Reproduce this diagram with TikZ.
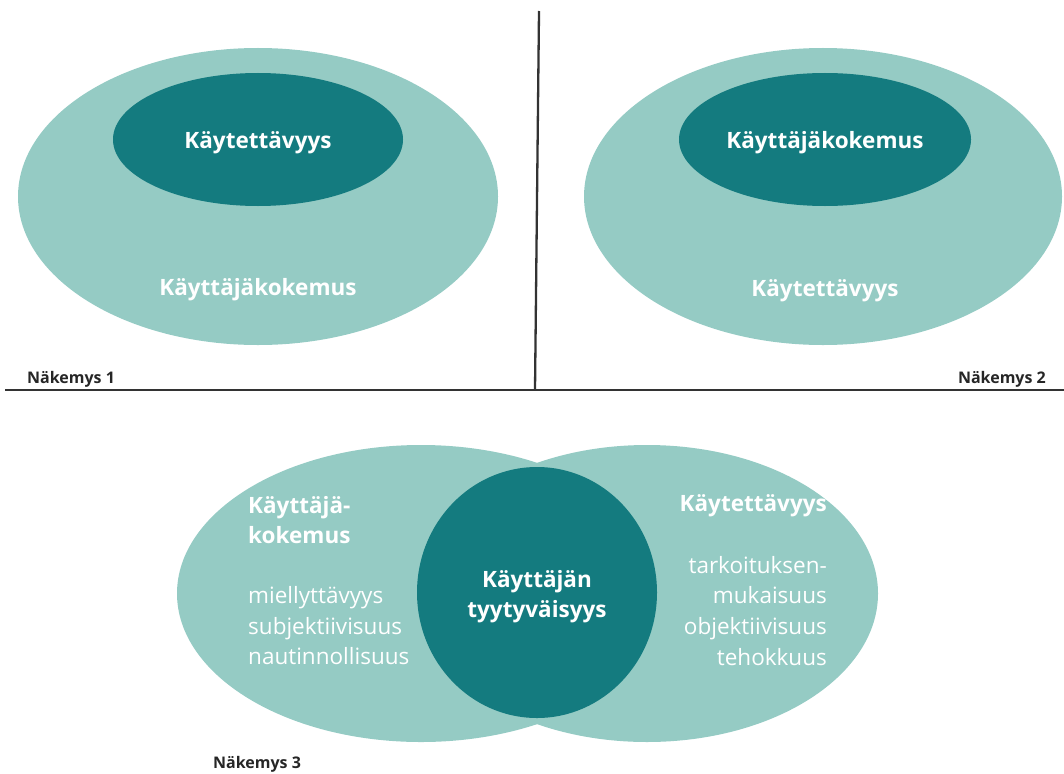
\documentclass[tikz,border=0pt]{standalone}
\usepackage{fontspec}
\setmainfont{Open Sans}
\usetikzlibrary{shapes.geometric}

\definecolor{tealLight}{HTML}{95CBC4}
\definecolor{tealDark}{HTML}{147B7F}
\definecolor{ruleGray}{HTML}{333333}

\tikzset{
  x=1pt, y=-1pt,
  lightblob/.style={ellipse, fill=tealLight, draw=none, inner sep=0pt, outer sep=0pt},
  darkblob/.style={ellipse, fill=tealDark, draw=none, inner sep=0pt, outer sep=0pt},
  head/.style={text=white, inner sep=0pt, font=\bfseries\fontsize{22.5}{30}\selectfont},
  item/.style={text=white, inner sep=0pt, font=\fontsize{22.5}{30}\selectfont},
  caption/.style={text=black!85, inner sep=0pt, font=\bfseries\fontsize{16}{20}\selectfont},
  divider/.style={draw=ruleGray, line width=2.3pt},
}

\begin{document}
\begin{tikzpicture}
\useasboundingbox (0,0) rectangle (1064,773);

% dividing lines
\coordinate (vtop) at (539,11);
\coordinate (vbot) at (535,390);
\coordinate (hleft) at (5,390);
\coordinate (hright) at (1064,390);
\draw[divider] (vtop) -- (vbot);
\draw[divider] (hleft) -- (hright);

% view 1
\node[lightblob, minimum width=480, minimum height=297] (outer1) at (258,196.5) {};
\node[darkblob, minimum width=290, minimum height=133] (inner1) at (258,139.5) {};
\node[head, anchor=base] (in1txt) at (258,148) {Käytettävyys};
\node[head, anchor=base] (out1txt) at (258,295) {Käyttäjäkokemus};
\node[caption, anchor=base west] (cap1) at (27,383) {Näkemys 1};

% view 2
\node[lightblob, minimum width=478, minimum height=297] (outer2) at (823,196.5) {};
\node[darkblob, minimum width=292, minimum height=133] (inner2) at (825,139.5) {};
\node[head, anchor=base] (in2txt) at (825,148) {Käyttäjäkokemus};
\node[head, anchor=base] (out2txt) at (825,296) {Käytettävyys};
\node[caption, anchor=base east] (cap2) at (1046,383) {Näkemys 2};

% view 3
\node[lightblob, minimum width=488, minimum height=297] (ux) at (421,593.5) {};
\node[lightblob, minimum width=462, minimum height=297] (us) at (647,593.5) {};
\node[darkblob, minimum width=240, minimum height=251] (sat) at (537,592.5) {};

\node[head, anchor=base] (sat1) at (537,587) {Käyttäjän};
\node[head, anchor=base] (sat2) at (537,617) {tyytyväisyys};

\node[head, anchor=base west] (uxh1) at (248,513) {Käyttäjä-};
\node[head, anchor=base west] (uxh2) at (248,543) {kokemus};
\node[item, anchor=base west] (uxa) at (248,603) {miellyttävyys};
\node[item, anchor=base west] (uxb) at (248,634) {subjektiivisuus};
\node[item, anchor=base west] (uxc) at (248,664) {nautinnollisuus};

\node[head, anchor=base east] (ush) at (827,511) {Käytettävyys};
\node[item, anchor=base east] (usa) at (827,573) {tarkoituksen-};
\node[item, anchor=base east] (usb) at (827,603) {mukaisuus};
\node[item, anchor=base east] (usc) at (827,634) {objektiivisuus};
\node[item, anchor=base east] (usd) at (827,665) {tehokkuus};

\node[caption, anchor=base west] (cap3) at (213,768) {Näkemys 3};
\end{tikzpicture}
\end{document}
